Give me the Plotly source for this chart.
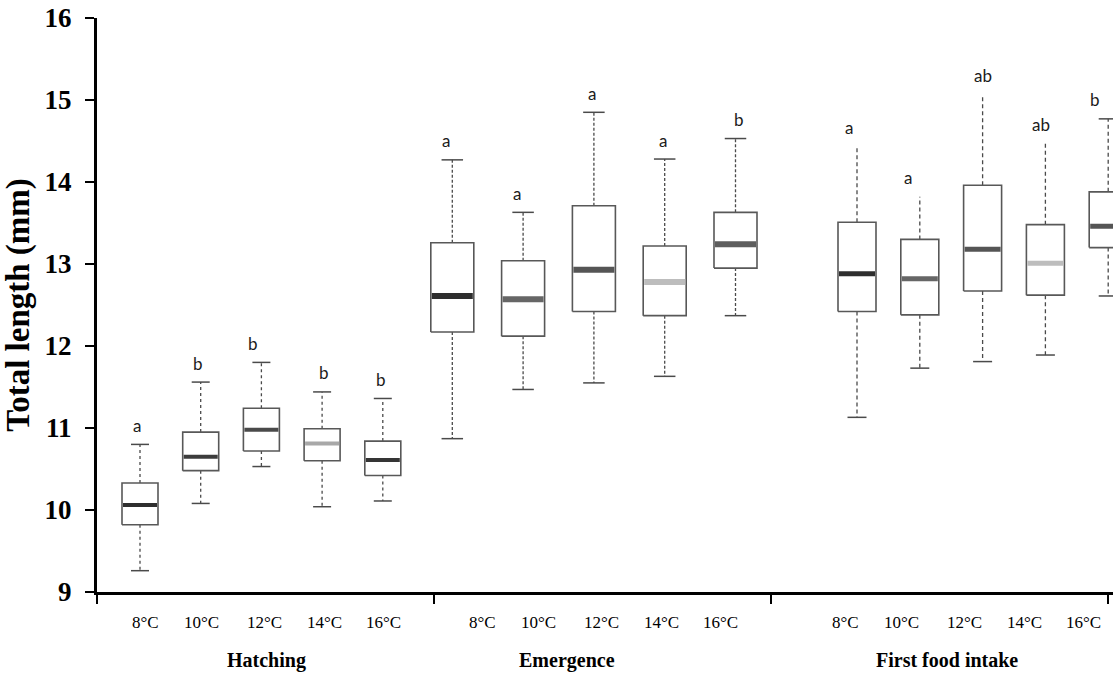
import plotly.graph_objects as go

# ---------------- data ----------------
stages = ["Hatching", "Emergence", "First food intake"]
temps = ["8°C", "10°C", "12°C", "14°C", "16°C"]

hatch_lower = [9.26, 10.08, 10.53, 10.04, 10.11]
hatch_q1 = [9.82, 10.48, 10.72, 10.60, 10.42]
hatch_med = [10.06, 10.65, 10.98, 10.81, 10.61]
hatch_q3 = [10.33, 10.95, 11.24, 10.99, 10.84]
hatch_upper = [10.80, 11.56, 11.80, 11.44, 11.36]
hatch_letters = ["a", "b", "b", "b", "b"]

emerg_lower = [10.87, 11.47, 11.55, 11.63, 12.37]
emerg_q1 = [12.17, 12.12, 12.42, 12.37, 12.95]
emerg_med = [12.61, 12.57, 12.93, 12.78, 13.24]
emerg_q3 = [13.26, 13.04, 13.71, 13.22, 13.63]
emerg_upper = [14.27, 13.63, 14.85, 14.28, 14.53]
emerg_letters = ["a", "a", "a", "a", "b"]

food_lower = [11.13, 11.73, 11.81, 11.89, 12.61]
food_q1 = [12.42, 12.38, 12.67, 12.62, 13.20]
food_med = [12.88, 12.82, 13.18, 13.01, 13.46]
food_q3 = [13.51, 13.30, 13.96, 13.48, 13.88]
food_upper = [14.43, 13.82, 15.07, 14.47, 14.77]
food_letters = ["a", "a", "ab", "ab", "b"]

y_ticks = [9, 10, 11, 12, 13, 14, 15, 16]

# ---------------- layout / style constants ----------------
GROUP_W = 337                       # x units per stage group
X_MAX = 1016
group_first = [43, 18.3, 86]        # first box offset within each group
group_step = [60.7, 70.8, 62.8]     # spacing of boxes in each group
box_w = [36, 43, 38]
median_w = [4, 6, 5]
whisker_dash = ["dot", "3px,2px", "4px,3px"]
median_colors = [
    ["#2e2e2e", "#3c3c3c", "#4a4a4a", "#a8a8a8", "#353535"],
    ["#2e2e2e", "#666666", "#555555", "#bdbdbd", "#5e5e5e"],
    ["#2e2e2e", "#666666", "#555555", "#bdbdbd", "#555555"],
]
upper_cap = [
    [True] * 5,
    [True] * 5,
    [False, False, False, False, True],
]
letter_xshift = [[-3, -3, -8, 2, -2], [-6, -6, -2, -2, 3], [-8, -12, 0, -4, -13]]
label_offsets = [48, 104, 167, 227.5, 286]
label_shift = [0, 0, 26]
stage_label_x = [169.7, 469.7, 849.7]

stats = [
    (hatch_lower, hatch_q1, hatch_med, hatch_q3, hatch_upper, hatch_letters),
    (emerg_lower, emerg_q1, emerg_med, emerg_q3, emerg_upper, emerg_letters),
    (food_lower, food_q1, food_med, food_q3, food_upper, food_letters),
]

BOX_LINE = "#585858"
WHISK = "#4a4a4a"
SERIF = "Liberation Serif, Times New Roman, serif"

fig = go.Figure()
annotations = []

for g, (lo, q1, med, q3, up, letters) in enumerate(stats):
    for i in range(len(temps)):
        xc = g * GROUP_W + group_first[g] + i * group_step[g]
        hw = box_w[g] / 2
        cw = box_w[g] / 4
        # whiskers (dashed)
        fig.add_trace(go.Scatter(
            x=[xc, xc, None, xc, xc], y=[q3[i], up[i], None, q1[i], lo[i]],
            mode="lines", line=dict(color=WHISK, width=1.3, dash=whisker_dash[g]),
            hoverinfo="skip", showlegend=False))
        # caps
        cx, cy = [xc - cw, xc + cw, None], [lo[i], lo[i], None]
        if upper_cap[g][i]:
            cx += [xc - cw, xc + cw]
            cy += [up[i], up[i]]
        fig.add_trace(go.Scatter(
            x=cx, y=cy, mode="lines", line=dict(color=WHISK, width=1.5),
            hoverinfo="skip", showlegend=False))
        # box body
        fig.add_trace(go.Scatter(
            x=[xc - hw, xc + hw, xc + hw, xc - hw, xc - hw],
            y=[q1[i], q1[i], q3[i], q3[i], q1[i]],
            mode="lines", fill="toself", fillcolor="white",
            line=dict(color=BOX_LINE, width=1.6),
            name=f"{stages[g]} {temps[i]}", showlegend=False))
        # median
        fig.add_trace(go.Scatter(
            x=[xc - hw + 1, xc + hw - 1], y=[med[i], med[i]], mode="lines",
            line=dict(color=median_colors[g][i], width=median_w[g]),
            hoverinfo="skip", showlegend=False))
        # significance letter
        annotations.append(dict(
            x=xc, y=up[i], xref="x", yref="y", text=letters[i], showarrow=False,
            yanchor="middle", yshift=19, xshift=letter_xshift[g][i],
            font=dict(family="Lato, Open Sans, sans-serif", size=17, color="#1a1a1a")))
        # temperature tick label
        annotations.append(dict(
            x=g * GROUP_W + label_offsets[i] + label_shift[g], y=-0.0523,
            xref="x", yref="paper", text=temps[i], showarrow=False,
            yanchor="middle", xanchor="center",
            font=dict(family=SERIF, size=17, color="black")))
    annotations.append(dict(
        x=stage_label_x[g], y=-0.1185, xref="x", yref="paper", text=stages[g],
        showarrow=False, yanchor="middle", xanchor="center",
        font=dict(family=SERIF, size=20, color="black", weight="bold")))

fig.update_layout(
    width=1113, height=673,
    margin=dict(l=97, r=0, t=18, b=81),
    paper_bgcolor="white", plot_bgcolor="white",
    annotations=annotations,
    showlegend=False,
    xaxis=dict(
        range=[0, X_MAX], showgrid=False, zeroline=False,
        showline=True, linecolor="black", linewidth=3,
        ticks="outside", ticklen=9, tickwidth=2, tickcolor="black",
        tickvals=[0, GROUP_W, 2 * GROUP_W, 3 * GROUP_W], showticklabels=False,
    ),
    yaxis=dict(
        range=[9, 16], showgrid=False, zeroline=False,
        showline=True, linecolor="black", linewidth=3,
        ticks="outside", ticklen=9, tickwidth=2, tickcolor="black",
        tickvals=y_ticks, ticklabelstandoff=8,
        tickfont=dict(family=SERIF, size=27, color="black", weight="bold"),
        title=dict(text="Total length (mm)", standoff=6,
                   font=dict(family=SERIF, size=33, color="black", weight="bold")),
    ),
)

fig.write_html("out.html")
